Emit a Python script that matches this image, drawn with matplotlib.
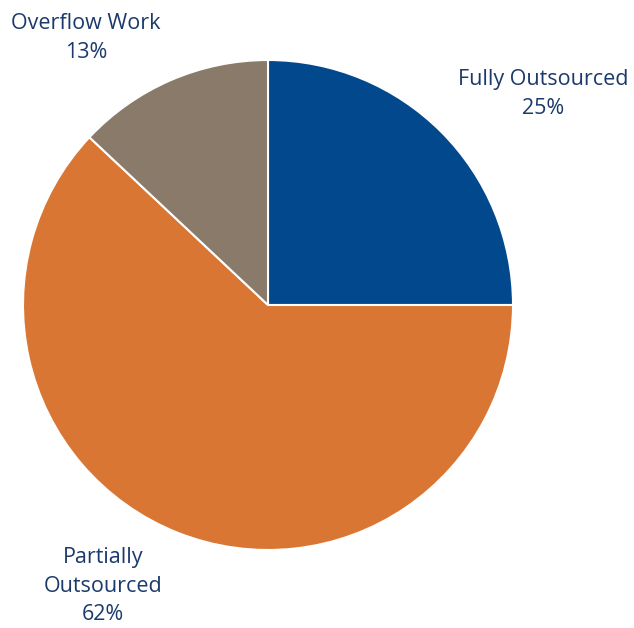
import matplotlib.pyplot as plt

labels = ['Fully Outsourced', 'Partially\nOutsourced', 'Overflow Work']
shares = [25, 62, 13]
colors = ['#02488D', '#D97634', '#8A7A69']

# label anchor points in pixels (centre of text block)
label_px = [(543, 94), (103, 586), (86, 38)]

W, H = 634, 628
cx, cy, r = 268, 305, 245


def to_data(px, py):
    return (px - cx) / r, (cy - py) / r


fig = plt.figure(figsize=(W / 100, H / 100), dpi=100)
ax = fig.add_axes([0, 0, 1, 1])
ax.pie(shares, colors=colors, startangle=90, counterclock=False,
       wedgeprops=dict(edgecolor='white', linewidth=1.5))
ax.set_xlim(-cx / r, (W - cx) / r)
ax.set_ylim(-(H - cy) / r, cy / r)
ax.axis('off')

for lab, val, (px, py) in zip(labels, shares, label_px):
    x, y = to_data(px, py)
    ax.text(x, y, f'{lab}\n{val}%', ha='center', va='center',
            fontsize=15.5, color='#1B3A6B', family='Open Sans',
            linespacing=1.45)

fig.savefig('out.png', dpi=100)
